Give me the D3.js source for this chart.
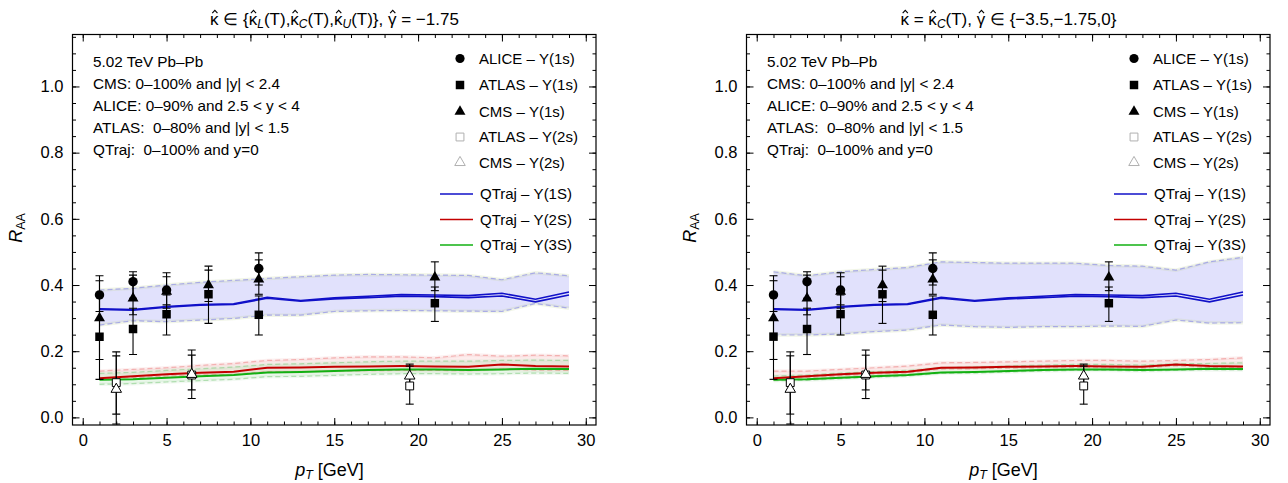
<!DOCTYPE html>
<html>
<head>
<meta charset="utf-8">
<script src="https://cdn.jsdelivr.net/npm/d3@7"></script>
<style>
body{margin:0;background:#fff}
svg{display:block}
text{font-family:"Liberation Sans",Arial,sans-serif;fill:#000}
</style>
</head>
<body>
<svg></svg>
<script>
// pT grid of the QTraj curves
var pt = [1,3,5,7,9,11,13,15,17,19,21,23,25,27,29];

// central curves (same in both panels)
var qt1S_a = [0.328,0.326,0.335,0.341,0.343,0.363,0.353,0.361,0.366,0.371,0.370,0.368,0.375,0.357,0.379];
var qt1S_b = [0.326,0.324,0.333,0.339,0.341,0.360,0.351,0.358,0.362,0.366,0.365,0.362,0.367,0.349,0.370];
var qt2S = [0.118,0.124,0.130,0.135,0.138,0.150,0.151,0.153,0.154,0.155,0.154,0.153,0.160,0.155,0.154];
var qt3S = [0.114,0.115,0.120,0.124,0.128,0.136,0.137,0.140,0.143,0.145,0.145,0.143,0.145,0.147,0.146];

// left panel bands (kappa variation)
var L1S_hi = [0.385,0.390,0.400,0.408,0.414,0.420,0.425,0.430,0.432,0.431,0.430,0.429,0.416,0.437,0.428];
var L1S_lo = [0.279,0.292,0.289,0.294,0.299,0.309,0.309,0.320,0.322,0.323,0.322,0.321,0.320,0.344,0.330];
var L2S_hi = [0.140,0.145,0.150,0.157,0.163,0.172,0.175,0.180,0.183,0.183,0.180,0.190,0.185,0.188,0.186];
var L2S_lo = [0.118,0.120,0.125,0.128,0.130,0.138,0.138,0.140,0.141,0.142,0.142,0.141,0.146,0.143,0.142];
var L3S_hi = [0.133,0.136,0.142,0.147,0.152,0.160,0.162,0.165,0.168,0.170,0.170,0.170,0.172,0.173,0.172];
var L3S_lo = [0.100,0.102,0.107,0.111,0.115,0.123,0.124,0.127,0.130,0.132,0.132,0.131,0.132,0.134,0.133];

// right panel bands (gamma variation)
var R1S_hi = [0.440,0.428,0.440,0.447,0.453,0.470,0.468,0.466,0.466,0.466,0.459,0.457,0.445,0.470,0.484];
var R1S_lo = [0.249,0.249,0.252,0.259,0.264,0.279,0.274,0.272,0.274,0.274,0.276,0.275,0.294,0.285,0.286];
var R2S_hi = [0.140,0.140,0.145,0.150,0.155,0.165,0.166,0.168,0.170,0.172,0.172,0.170,0.172,0.175,0.180];
var R2S_lo = [0.114,0.120,0.126,0.131,0.134,0.146,0.147,0.149,0.150,0.151,0.150,0.149,0.156,0.151,0.150];
var R3S_hi = [0.125,0.128,0.134,0.138,0.142,0.150,0.152,0.155,0.158,0.160,0.160,0.158,0.162,0.163,0.165];
var R3S_lo = [0.111,0.112,0.117,0.121,0.125,0.133,0.134,0.137,0.140,0.142,0.142,0.140,0.142,0.144,0.143];

// experimental data
var aliceX = [1,3,5,10.5], aliceY = [0.370,0.410,0.385,0.450], aliceLo = [0.320,0.360,0.340,0.400], aliceHi = [0.428,0.440,0.437,0.497];
var atlasX = [1,3,5,7.5,10.5,21], atlasY = [0.244,0.267,0.312,0.372,0.310,0.345], atlasLo = [0.115,0.190,0.249,0.284,0.249,0.290], atlasHi = [0.370,0.330,0.370,0.445,0.367,0.394];
var cmsX = [1,3,5,7.5,10.5,21], cmsY = [0.300,0.360,0.380,0.400,0.417,0.423], cmsLo = [0.175,0.310,0.330,0.350,0.372,0.383], cmsHi = [0.413,0.430,0.425,0.457,0.476,0.470];
var atlas2X = [2,6.5,19.5], atlas2Y = [0.105,0.128,0.095], atlas2Lo = [0.010,0.083,0.040], atlas2Hi = [0.186,0.188,0.155];
var cms2X = [2,6.5,19.5], cms2Y = [0.085,0.130,0.125], cms2Lo = [-0.020,0.057,0.100], cms2Hi = [0.198,0.2035,0.161];

var xMajor = [0,5,10,15,20,25,30];
var yMajor = [0,0.2,0.4,0.6,0.8,1.0];
var infoLines = ['5.02 TeV Pb\u2013Pb','CMS: 0\u2013100% and |y| < 2.4','ALICE: 0\u201390% and 2.5 < y < 4','ATLAS:  0\u201380% and |y| < 1.5','QTraj:  0\u2013100% and y=0'];
var legPoints = ['ALICE \u2013 \u03A5(1s)','ATLAS \u2013 \u03A5(1s)','CMS \u2013 \u03A5(1s)','ATLAS \u2013 \u03A5(2s)','CMS \u2013 \u03A5(2s)'];
var legLines = ['QTraj \u2013 \u03A5(1S)','QTraj \u2013 \u03A5(2S)','QTraj \u2013 \u03A5(3S)'];

var w = 1288, h = 483,
	svg = d3.select('svg').attr('width', w).attr('height', h),
	blue = '#1010c8', red = '#c40000', green = '#12b012';

function range(a, b, s){
	var r = [];
	for (var v = a; v <= b + 1e-9; v += s) r.push(Math.round(v*1000)/1000);
	return r;
}

function panel(x0, b, titleParts){
	var g = svg.append('g');
	var x = d3.scaleLinear().domain([-0.61, 30.61]).range([x0, x0 + 523.5]);
	var y = d3.scaleLinear().domain([-0.023, 1.157]).range([425, 34.5]);

	var clip = 'clip' + Math.round(x0);
	svg.append('clipPath').attr('id', clip).append('rect')
		.attr('x', x0).attr('y', 34.5).attr('width', 523.5).attr('height', 390.5);
	var p = g.append('g').attr('clip-path', 'url(#' + clip + ')');

	function band(lo, hi, fill, edge, glow){
		var area = d3.area().x(function(d, i){return x(pt[i])})
			.y0(function(d, i){return y(lo[i])}).y1(function(d, i){return y(hi[i])});
		p.append('path').attr('d', area(pt)).attr('fill', fill);
		[lo, hi].forEach(function(arr){
			var ln = d3.line().x(function(d, i){return x(pt[i])}).y(function(d){return y(d)});
			p.append('path').attr('d', ln(arr)).attr('fill', 'none')
				.attr('stroke', glow).attr('stroke-width', 3.5);
			p.append('path').attr('d', ln(arr)).attr('fill', 'none')
				.attr('stroke', edge).attr('stroke-width', 1.2).attr('stroke-dasharray', '5,3');
		});
	}
	band(b[0], b[1], 'rgba(120,120,240,0.22)', 'rgba(120,120,230,0.55)', 'rgba(200,215,160,0.25)');
	band(b[2], b[3], 'rgba(240,80,80,0.10)', 'rgba(235,120,120,0.5)', 'rgba(240,180,180,0.2)');
	band(b[4], b[5], 'rgba(60,190,60,0.10)', 'rgba(120,200,120,0.5)', 'rgba(190,225,190,0.2)');

	function curve(arr, col, sw){
		var ln = d3.line().x(function(d, i){return x(pt[i])}).y(function(d){return y(d)});
		p.append('path').attr('d', ln(arr)).attr('fill', 'none')
			.attr('stroke', col).attr('stroke-width', sw);
	}
	curve(qt3S, green, 2);
	curve(qt2S, red, 2);
	curve(qt1S_a, blue, 1.6);
	curve(qt1S_b, blue, 1.6);

	// error bars
	function errs(xs, lo, hi){
		xs.forEach(function(v, i){
			var cx = x(v);
			p.append('line').attr('x1', cx).attr('x2', cx).attr('y1', y(lo[i])).attr('y2', y(hi[i]))
				.attr('stroke', '#000').attr('stroke-width', 1.1);
			[lo[i], hi[i]].forEach(function(e){
				p.append('line').attr('x1', cx - 4).attr('x2', cx + 4).attr('y1', y(e)).attr('y2', y(e))
					.attr('stroke', '#000').attr('stroke-width', 1.1);
			});
		});
	}
	errs(aliceX, aliceLo, aliceHi);
	errs(atlasX, atlasLo, atlasHi);
	errs(cmsX, cmsLo, cmsHi);
	errs(atlas2X, atlas2Lo, atlas2Hi);
	errs(cms2X, cms2Lo, cms2Hi);

	function marks(xs, ys, type, size, open){
		p.selectAll(null).data(xs).enter().append('path')
			.attr('d', d3.symbol().type(type).size(size))
			.attr('transform', function(d, i){return 'translate(' + x(d) + ',' + y(ys[i]) + ')'})
			.attr('fill', open ? '#fff' : '#000')
			.attr('stroke', open ? '#000' : 'none').attr('stroke-width', 1);
	}
	marks(atlas2X, atlas2Y, d3.symbolSquare, 62, true);
	marks(cms2X, cms2Y, d3.symbolTriangle, 48, true);
	marks(aliceX, aliceY, d3.symbolCircle, 70, false);
	marks(atlasX, atlasY, d3.symbolSquare, 72, false);
	marks(cmsX, cmsY, d3.symbolTriangle, 52, false);

	// axes with inward ticks on all four sides
	var xMinor = range(0, 30, 1), yMinor = range(0, 1.15, 0.05);
	function ax(axis, tr, vals, len, labels){
		var a = axis.tickValues(vals).tickSize(-len).tickSizeOuter(0);
		if (labels) a.tickPadding(9); else a.tickFormat('');
		var s = g.append('g').attr('transform', tr).call(a);
		s.select('.domain').remove();
		s.selectAll('line').attr('stroke', '#000');
		s.selectAll('text').style('font-size', '16.5px').attr('fill', '#000');
		return s;
	}
	ax(d3.axisBottom(x), 'translate(0,425)', xMinor, 3.5, false);
	ax(d3.axisBottom(x).tickFormat(d3.format('d')), 'translate(0,425)', xMajor, 7, true);
	ax(d3.axisTop(x), 'translate(0,34.5)', xMinor, 3.5, false);
	ax(d3.axisTop(x), 'translate(0,34.5)', xMajor, 7, false);
	ax(d3.axisLeft(y), 'translate(' + x0 + ',0)', yMinor, 3.5, false);
	ax(d3.axisLeft(y).tickFormat(d3.format('.1f')), 'translate(' + x0 + ',0)', yMajor, 7, true);
	ax(d3.axisRight(y), 'translate(' + (x0 + 523.5) + ',0)', yMinor, 3.5, false);
	ax(d3.axisRight(y), 'translate(' + (x0 + 523.5) + ',0)', yMajor, 7, false);
	g.append('rect').attr('x', x0).attr('y', 34.5).attr('width', 523.5).attr('height', 390.5)
		.attr('fill', 'none').attr('stroke', '#000').attr('stroke-width', 1.2);

	// title, hats drawn over the marked glyphs
	var t = g.append('text').attr('x', x0 + 262).attr('y', 24.5)
		.attr('text-anchor', 'middle').style('font-size', '17px');
	var hatIdx = [], n = 0;
	titleParts.forEach(function(tp){
		var s = t.append('tspan').text(tp[0]);
		if (tp[1] == 'sub') s.attr('baseline-shift', '-25%').style('font-size', '12px').style('font-style', 'italic');
		else s.style('font-style', 'normal');
		for (var k = 0; k < tp[0].length; k++)
			if (tp[0][k] == '\u03BA' || tp[0][k] == '\u03B3') hatIdx.push(n + k);
		n += tp[0].length;
	});
	hatIdx.forEach(function(ci){
		var e = t.node().getExtentOfChar(ci), cx = e.x + e.width/2 + 0.5;
		g.append('path').attr('d', 'M' + (cx - 2.6) + ',' + 13.2 + 'L' + cx + ',' + 10.4 + 'L' + (cx + 2.6) + ',' + 13.2)
			.attr('fill', 'none').attr('stroke', '#000').attr('stroke-width', 1.1);
	});

	// axis labels
	var xl = g.append('text').attr('x', x0 + 257).attr('y', 476).attr('text-anchor', 'middle').style('font-size', '18px');
	xl.append('tspan').text('p').style('font-style', 'italic');
	xl.append('tspan').text('T').style('font-style', 'italic').style('font-size', '12.5px').attr('baseline-shift', '-25%');
	xl.append('tspan').text(' [GeV]');
	var yl = g.append('text').attr('transform', 'translate(' + (x0 - 51) + ',228) rotate(-90)')
		.attr('text-anchor', 'middle').style('font-size', '18px');
	yl.append('tspan').text('R').style('font-style', 'italic');
	yl.append('tspan').text('AA').style('font-size', '12.5px').attr('baseline-shift', '-25%');

	// info block
	g.selectAll(null).data(infoLines).enter().append('text')
		.attr('x', x0 + 20.5).attr('y', function(d, i){return 67 + i*22})
		.style('font-size', '15.3px').style('white-space', 'pre').text(function(d){return d});

	// legend
	var lx = x0 + 387.5, ly = [58.5, 85, 111.5, 137, 162.5];
	var lt = [[d3.symbolCircle, 66, false], [d3.symbolSquare, 72, false], [d3.symbolTriangle, 52, false],
		[d3.symbolSquare, 62, true], [d3.symbolTriangle, 48, true]];
	legPoints.forEach(function(s, i){
		g.append('path').attr('d', d3.symbol().type(lt[i][0]).size(lt[i][1]))
			.attr('transform', 'translate(' + lx + ',' + ly[i] + ')')
			.attr('fill', lt[i][2] ? '#fff' : '#000')
			.attr('stroke', lt[i][2] ? '#b0b0b0' : 'none');
		g.append('text').attr('x', lx + 19).attr('y', ly[i] + 5.3).style('font-size', '15px').text(s);
	});
	var lly = [194, 219.5, 245], lcol = [blue, red, green];
	legLines.forEach(function(s, i){
		g.append('line').attr('x1', x0 + 367.5).attr('x2', x0 + 400.5).attr('y1', lly[i]).attr('y2', lly[i])
			.attr('stroke', lcol[i]).attr('stroke-width', 1.3);
		g.append('text').attr('x', x0 + 407.5).attr('y', lly[i] + 5.3).style('font-size', '15px').text(s);
	});
}

panel(72.5, [L1S_lo, L1S_hi, L2S_lo, L2S_hi, L3S_lo, L3S_hi],
	[['\u03BA \u2208 {\u03BA'], ['L', 'sub'], ['(T),\u03BA'], ['C', 'sub'], ['(T),\u03BA'], ['U', 'sub'], ['(T)}, \u03B3 = \u22121.75']]);
panel(746.5, [R1S_lo, R1S_hi, R2S_lo, R2S_hi, R3S_lo, R3S_hi],
	[['\u03BA = \u03BA'], ['C', 'sub'], ['(T), \u03B3 \u2208 {\u22123.5,\u22121.75,0}']]);
</script>
</body>
</html>
